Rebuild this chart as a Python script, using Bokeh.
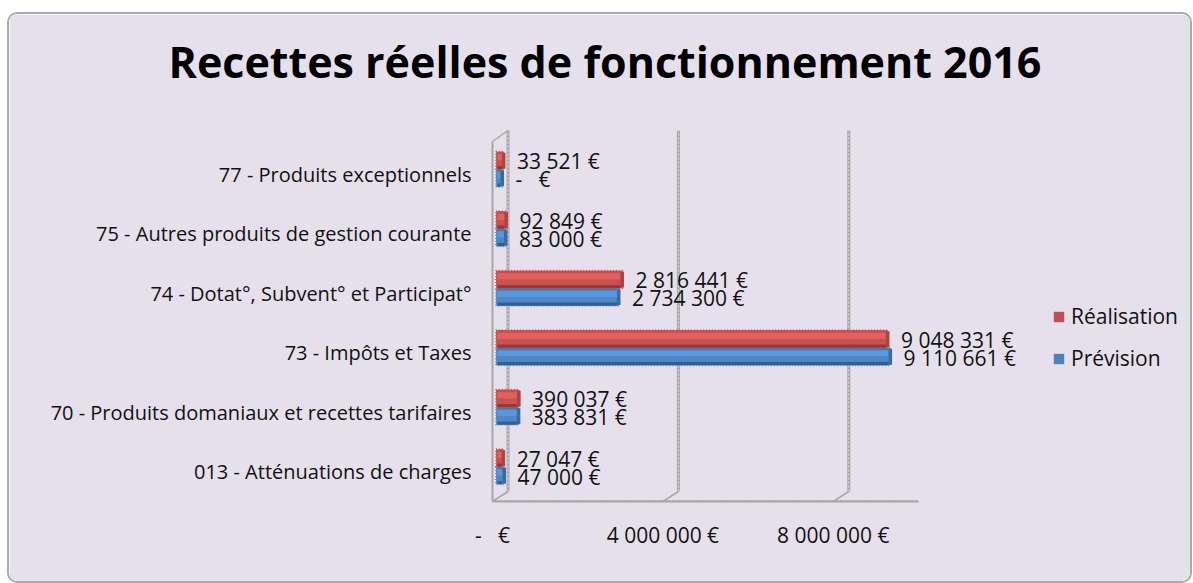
from bokeh.plotting import figure
from bokeh.embed import file_html
from bokeh.resources import INLINE
from bokeh.core.properties import value
from bokeh.models import FixedTicker, Legend, LegendItem, Range1d, Title

categories = ["013 - Atténuations de charges", "70 - Produits domaniaux et recettes tarifaires",
              "73 - Impôts et Taxes", "74 - Dotat°, Subvent° et Participat°",
              "75 - Autres produits de gestion courante", "77 - Produits exceptionnels"]
realisation = [27047, 390037, 9048331, 2816441, 92849, 33521]
prevision = [47000, 383831, 9110661, 2734300, 83000, 0]
realisation_labels = ["27 047 €", "390 037 €", "9 048 331 €", "2 816 441 €", "92 849 €", "33 521 €"]
prevision_labels = ["47 000 €", "383 831 €", "9 110 661 €", "2 734 300 €", "83 000 €", "-\u00a0\u00a0\u00a0€"]
x_ticks = [0, 4000000, 8000000]
x_tick_labels = ["-\u00a0\u00a0\u00a0€", "4 000 000 €", "8 000 000 €"]

FONT = "Open Sans"
PANEL = "#e6e0ec"
W, H = 1181, 567
FL, FR, FT, FB = 483, 1181, 82, 487    # frame edges in figure pixels
PXX = 10e6 / 426.0                     # value per pixel
PXY = 6 / 357.0                        # category per pixel
x_end = (FR - FL) * PXX
wall_top = 5.5 + 14 * PXY
y_top = 5.5 + 48 * PXY

p = figure(width=W, height=H, output_backend="svg", toolbar_location=None,
           x_range=Range1d(0, x_end), y_range=Range1d(-0.5, y_top),
           min_border_left=FL, min_border_right=W - FR, min_border_top=FT, min_border_bottom=H - FB,
           background_fill_color=PANEL, border_fill_color=PANEL,
           outline_line_color=PANEL, outline_line_width=2,
           margin=(14, 0, 0, 9),
           styles={"border-radius": "8px", "overflow": "hidden", "outline": "2px solid #a8aab0"})
p.grid.visible = False

t = Title(text="Recettes réelles de fonctionnement 2016", text_font=FONT, text_font_size="43px",
          text_font_style="bold", text_color="#000000", align="left", offset=-324, standoff=12)
p.add_layout(t, "above")

# axes
xa = p.xaxis[0]
xa.ticker = FixedTicker(ticks=x_ticks)
xa.major_label_overrides = {a: b for a, b in zip(x_ticks, x_tick_labels)}
xa.bounds = (0, 10000000)
xa.axis_line_color = "#a6a6a6"; xa.axis_line_width = 2
xa.major_tick_line_color = None; xa.minor_tick_line_color = None
xa.major_label_standoff = 13
xa.major_label_text_font = FONT; xa.major_label_text_font_size = "21px"; xa.major_label_text_color = "#111111"

ya = p.yaxis[0]
ya.ticker = FixedTicker(ticks=list(range(6)))
ya.major_label_overrides = {i: c for i, c in enumerate(categories)}
ya.bounds = (-0.5, 5.5 + 3 * PXY)
ya.axis_line_color = "#a6a6a6"; ya.axis_line_width = 2
ya.major_tick_line_color = None; ya.minor_tick_line_color = None
ya.major_label_standoff = 15
ya.major_label_text_font = FONT; ya.major_label_text_font_size = "20px"; ya.major_label_text_color = "#111111"

# 3D walls
DX, DY = 15.5 * PXX, 10 * PXY
wall_x = [v + DX for v in x_ticks]
p.segment(wall_x, [-0.5 + DY] * 3, wall_x, [wall_top] * 3, line_color="#a6a6a6", line_width=3)
p.segment(wall_x, [-0.5 + DY] * 3, wall_x, [wall_top] * 3, line_color=PANEL, line_width=1, line_dash="2 2")
p.segment(x_ticks, [-0.5] * 3, wall_x, [-0.5 + DY] * 3, line_color="#a6a6a6", line_width=1.5)
p.segment([0], [5.5 + 3 * PXY], [DX], [wall_top], line_color="#a6a6a6", line_width=1.5)
p.segment([0], [-0.5], [10000000], [-0.5], line_color="#8c8c8c", line_width=3, line_dash="1 2")

BAR_H = 17.5 * PXY
BASE = 5 * PXX
SHIFT = 8 * PXX
CAP = 3.5 * PXX
CENTER = 5 * PXY
BANDS = [(0.00, 0.14, 0), (0.14, 0.50, 1), (0.50, 0.82, 2), (0.82, 1.00, 3)]
RED = ["#c4504e", "#e2615f", "#c9514f", "#95393a"]
BLUE = ["#4877ae", "#5b97db", "#4f86c6", "#325f90"]


def bars(ys, vals, shades, edge, cap):
    right = [v + SHIFT for v in vals]
    base = p.hbar(y=ys, right=[r + CAP * 0.6 for r in right], left=[BASE - 1.5 * PXX] * 6, height=BAR_H,
                  fill_color=shades[2], line_color=edge, line_width=2, line_dash="1 2")
    for a, b, k in BANDS:
        yy = [y + BAR_H * (0.5 - (a + b) / 2) for y in ys]
        p.hbar(y=yy, right=right, left=[BASE] * 6, height=BAR_H * (b - a), fill_color=shades[k], line_color=None)
    p.hbar(y=ys, right=[r + CAP for r in right], left=right, height=BAR_H * 0.9, fill_color=cap, line_color=None)
    return base


idx = list(range(6))
red_y = [i + CENTER + BAR_H / 2 for i in idx]
blue_y = [i + CENTER - BAR_H / 2 for i in idx]
bars(blue_y, prevision, BLUE, "#5b97db", "#3a6a9e")
bars(red_y, realisation, RED, "#d9605e", "#a84644")

TXT = dict(text_font_size="21px", text_baseline="middle", text_color="#111111", x_offset=23)
p.text(realisation, idx, text=realisation_labels, y_offset=-13, text_font=value(FONT), **TXT)
p.text(prevision, idx, text=prevision_labels, y_offset=5, text_font=value(FONT), **TXT)

# legend swatches (drawn outside the visible range, shown only in the legend)
sw_r = p.quad(left=[0], right=[1], bottom=[-5], top=[-4], fill_color="#c0504d", line_color=None)
sw_b = p.quad(left=[0], right=[1], bottom=[-5], top=[-4], fill_color="#4f81bd", line_color=None)
legend = Legend(items=[LegendItem(label="Réalisation", renderers=[sw_r]),
                       LegendItem(label="Prévision", renderers=[sw_b])],
                location=(560, 129), background_fill_alpha=0, border_line_color=None,
                label_text_font=FONT, label_text_font_size="21px", label_text_color="#111111",
                glyph_width=13, glyph_height=13, spacing=14, margin=0, padding=0, label_standoff=6)
p.add_layout(legend, "center")

open("out.html", "w").write(file_html(p, INLINE))
